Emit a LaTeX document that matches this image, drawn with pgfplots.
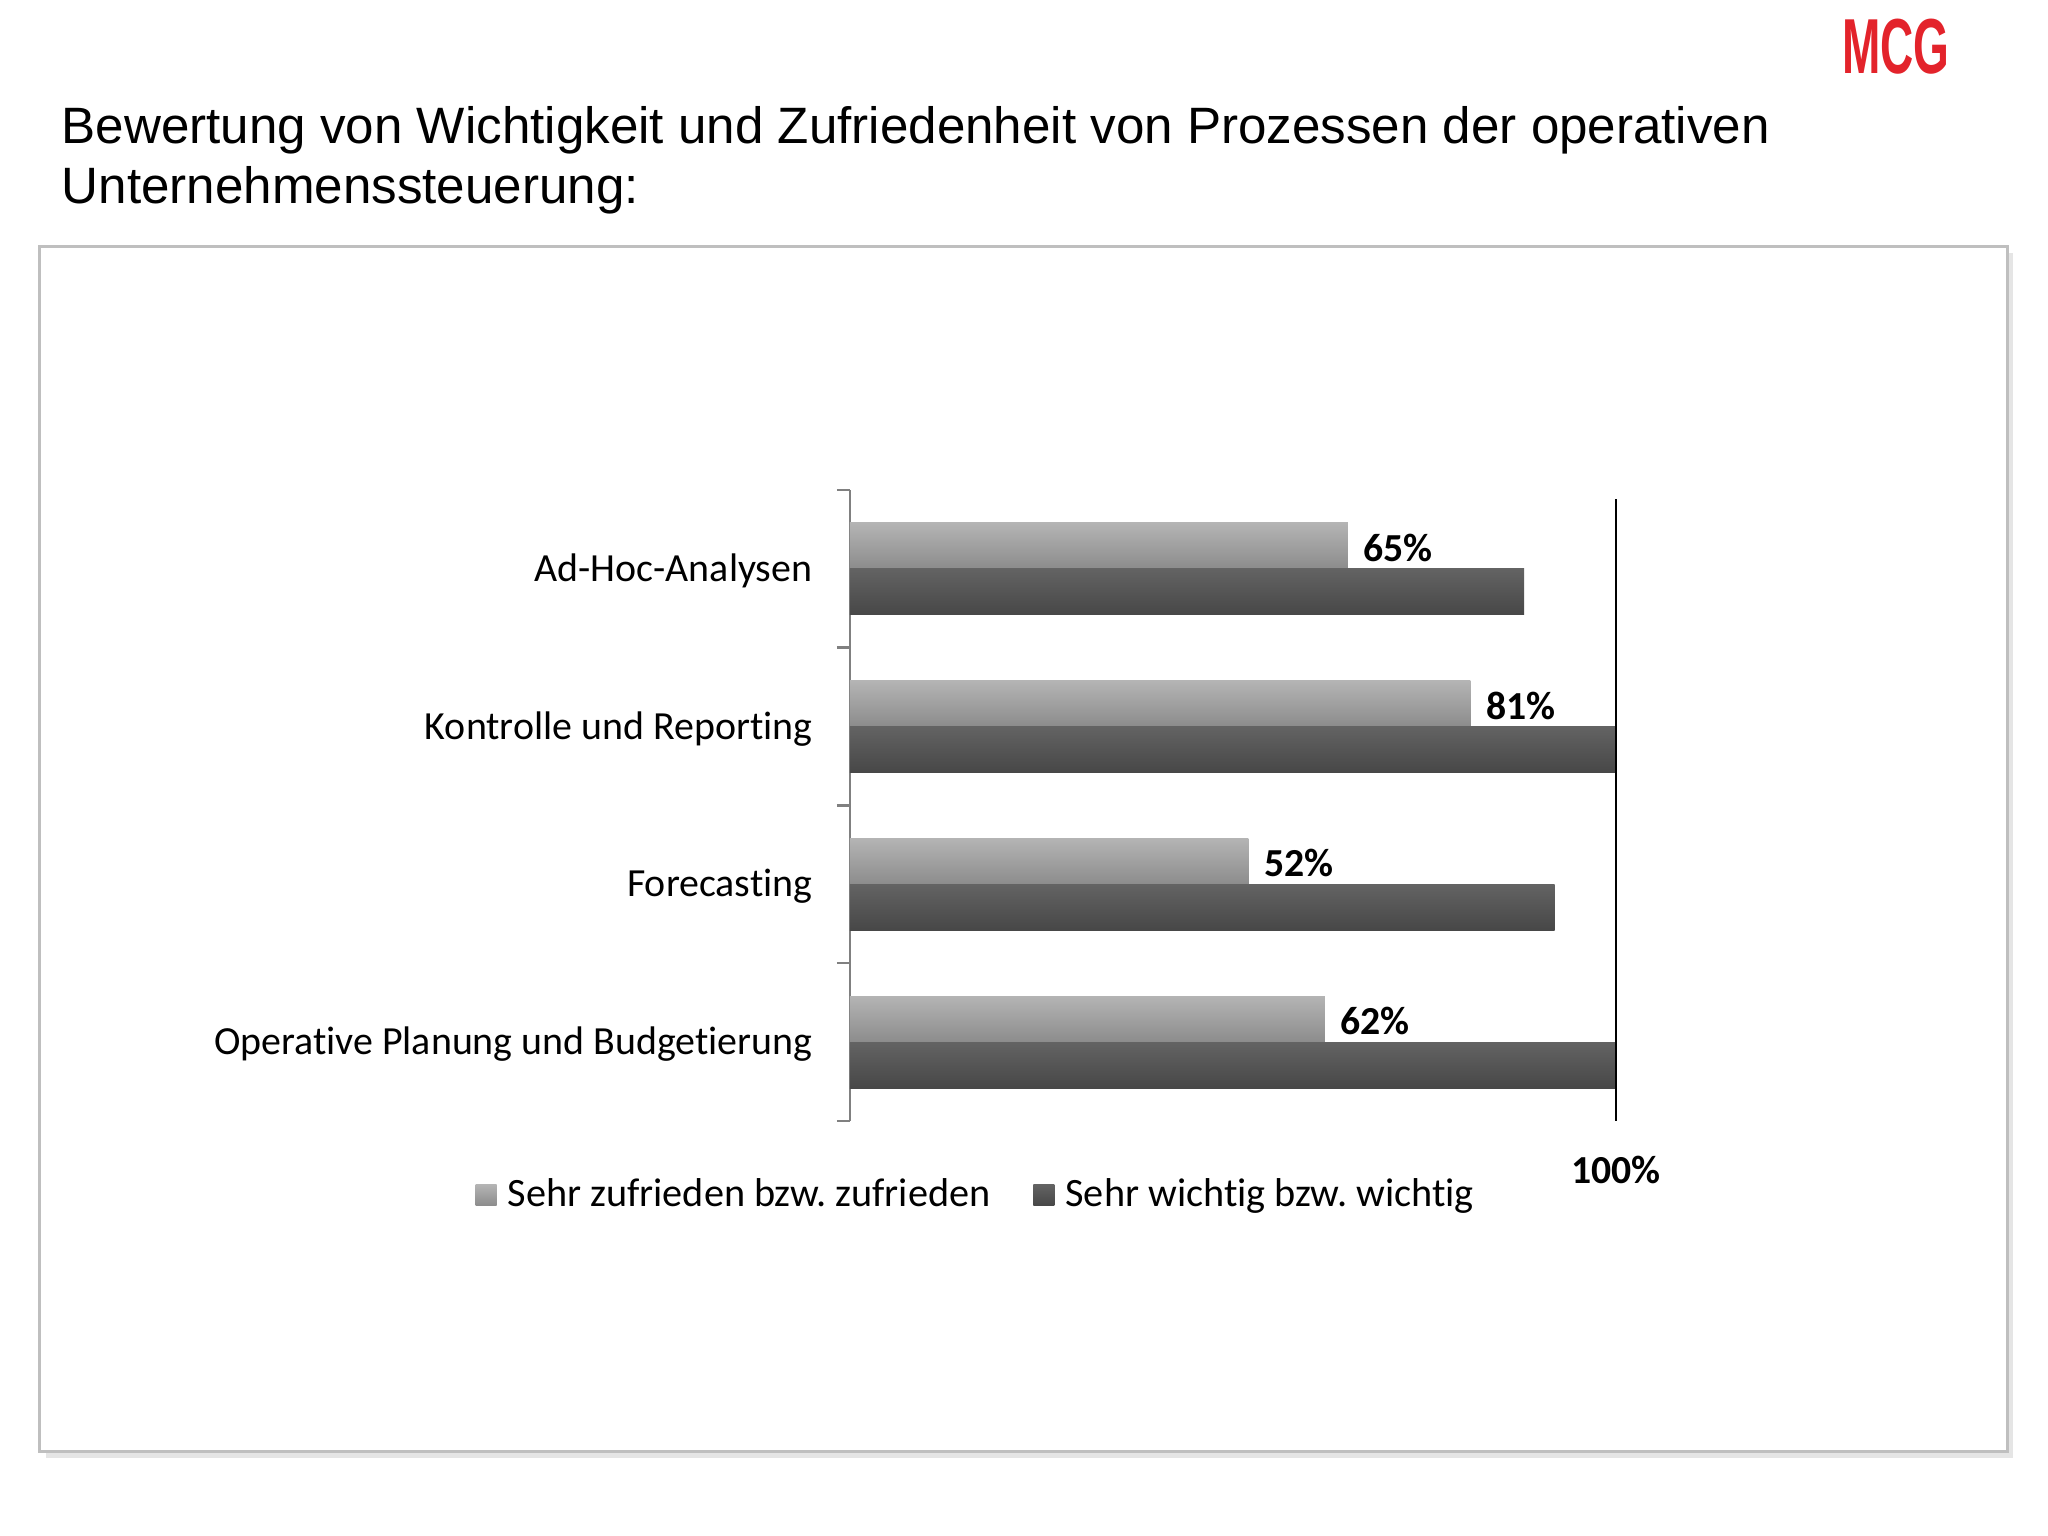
\documentclass[border=0pt]{standalone}
\usepackage{pgfplots}
\pgfplotsset{compat=1.18}
\usepackage{fontspec}
\setmainfont{Carlito}[Ligatures=NoCommon]
\newfontfamily\arialfont{Liberation Sans}
\frenchspacing
\definecolor{lighttop}{HTML}{B4B4B4}
\definecolor{lightbot}{HTML}{8C8C8C}
\definecolor{darktop}{HTML}{636363}
\definecolor{darkbot}{HTML}{474747}
\definecolor{framegrey}{HTML}{BFBFBF}
\definecolor{mcgred}{HTML}{E3232B}
\pgfplotsset{
  lightbar/.style={xbar, bar width=4.6mm, bar shift=2.3mm, draw=none, top color=lighttop, bottom color=lightbot,
    point meta=x,
    nodes near coords={\pgfmathprintnumber{\pgfplotspointmeta}\%},
    nodes near coords style={anchor=west, inner sep=0pt, xshift=1.5mm, yshift=2.1mm, font=\fontsize{11.3pt}{13pt}\selectfont\bfseries, text=black}},
  darkbar/.style={xbar, bar width=4.6mm, bar shift=-2.3mm, draw=none, top color=darktop, bottom color=darkbot},
}
\begin{document}
\begin{tikzpicture}
\useasboundingbox[fill=white] (0,0) rectangle (20.48,15.36);
% logo
\node[anchor=base, inner sep=0pt, text=mcgred, xscale=0.59] at (18.96,14.62) {\arialfont\fontsize{22.2pt}{26pt}\selectfont\bfseries MCG};
% title
\node[anchor=base west, inner sep=0pt] at (0.61,13.92) {\arialfont\fontsize{14.55pt}{17pt}\selectfont Bewertung von Wichtigkeit und Zufriedenheit von Prozessen der operativen};
\node[anchor=base west, inner sep=0pt] at (0.61,13.32) {\arialfont\fontsize{14.55pt}{17pt}\selectfont Unternehmenssteuerung:};
% frame
\fill[black!10] (0.46,0.78) rectangle (20.13,12.83);
\draw[framegrey, line width=0.3mm, fill=white] (0.40,0.84) rectangle (20.07,12.89);
\begin{axis}[
  at={(8.50cm,4.15cm)}, anchor=south west,
  width=7.66cm, height=6.31cm, scale only axis,
  xmin=0, xmax=100, ymin=-0.5, ymax=3.5,
  axis x line=none,
  axis y line*=left,
  axis line style={draw=black!50, line width=0.25mm},
  ytick={0,1,2,3},
  yticklabels={Operative Planung und Budgetierung, Forecasting, Kontrolle und Reporting, Ad-Hoc-Analysen},
  minor ytick={-0.5,0.5,1.5,2.5,3.5},
  major tick length=0pt, minor tick length=1.3mm,
  tick align=outside,
  tick style={draw=black!50, line width=0.25mm},
  yticklabel style={anchor=east, inner sep=0pt, xshift=-3.7mm, yshift=-0.2mm, font=\fontsize{11.35pt}{13pt}\selectfont},
  /pgf/number format/assume math mode=true,
  clip=false,
  legend columns=2,
  legend style={at={(-0.4896,-0.1173)}, anchor=west, draw=none, fill=none, inner sep=0pt,
    nodes={inner sep=0pt, anchor=west}, font=\fontsize{11.45pt}{13pt}\selectfont,
    /tikz/every even column/.append style={column sep=4.3mm}},
  legend image code/.code={\path[#1, draw=none] (0cm,-1.05mm) rectangle (2.1mm,1.05mm); \path (3.2mm,0);},
]
% light series: Sehr zufrieden bzw. zufrieden
\addplot[lightbar] coordinates {(65,3)};
\addlegendentry{Sehr zufrieden bzw. zufrieden}
\addplot[lightbar, forget plot] coordinates {(81,2)};
\addplot[lightbar, forget plot] coordinates {(52,1)};
\addplot[lightbar, forget plot] coordinates {(62,0)};
% dark series: Sehr wichtig bzw. wichtig
\addplot[darkbar] coordinates {(88,3)};
\addlegendentry{Sehr wichtig bzw. wichtig}
\addplot[darkbar, forget plot] coordinates {(100,2)};
\addplot[darkbar, forget plot] coordinates {(92,1)};
\addplot[darkbar, forget plot] coordinates {(100,0)};
\draw[black, line width=0.25mm] (axis cs:100,-0.5) -- (axis cs:100,3.44);
\node[font=\fontsize{11.3pt}{13pt}\selectfont\bfseries, inner sep=0pt] at (axis cs:100,-0.81) {100\%};
\end{axis}
\end{tikzpicture}
\end{document}
